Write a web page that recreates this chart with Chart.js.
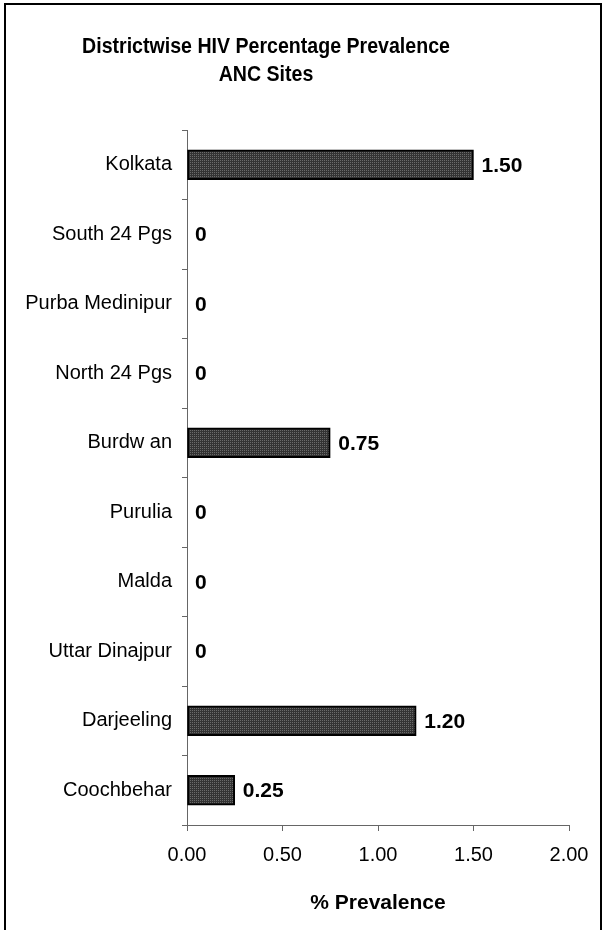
<!DOCTYPE html>
<html>
<head>
<meta charset="utf-8">
<script src="https://cdn.jsdelivr.net/npm/chart.js@4/dist/chart.umd.min.js"></script>
<style>
  html, body { margin: 0; padding: 0; background: #fff; }
  #wrap { position: relative; width: 602px; height: 930px; }
  #frame {
    position: absolute; left: 4px; top: 3px; width: 598px; height: 940px;
    border: 2px solid #000; box-sizing: border-box; pointer-events: none;
  }
  canvas { position: absolute; left: 0; top: 0; }
</style>
</head>
<body>
<div id="wrap">
  <canvas id="chart" width="602" height="930"></canvas>
  <div id="frame"></div>
</div>
<script>
// Données du graphique
const titleLines = ['Districtwise HIV Percentage Prevalence', 'ANC Sites'];
const districts = ['Kolkata', 'South 24 Pgs', 'Purba Medinipur', 'North 24 Pgs', 'Burdw an',
                   'Purulia', 'Malda', 'Uttar Dinajpur', 'Darjeeling', 'Coochbehar'];
const prevalence = [1.50, 0, 0, 0, 0.75, 0, 0, 0, 1.20, 0.25];
const axisTitle = '% Prevalence';

const FONT = '"Liberation Sans", Arial, sans-serif';

// Motif pointillé pour les barres
function makePattern() {
    const c = document.createElement('canvas');
    c.width = 2; c.height = 2;
    const g = c.getContext('2d');
    g.fillStyle = '#333333';
    g.fillRect(0, 0, 2, 2);
    g.fillStyle = '#6a6a6a';
    g.fillRect(0, 0, 1, 1);
    return g.createPattern(c, 'repeat');
}

// Titre dessiné à la main (centré comme dans l'original, police un peu condensée)
const titlePlugin = {
    id: 'customTitle',
    afterDraw(chart) {
        const ctx = chart.ctx;
        ctx.save();
        ctx.fillStyle = '#000';
        ctx.font = 'bold 22px ' + FONT;
        ctx.textAlign = 'center';
        ctx.textBaseline = 'middle';
        ctx.translate(266, 0);
        ctx.scale(0.89, 1);
        titleLines.forEach((line, i) => ctx.fillText(line, 0, 47 + i * 28));
        ctx.restore();
    }
};

// Étiquettes de valeurs à droite des barres
const valueLabels = {
    id: 'valueLabels',
    afterDatasetsDraw(chart) {
        const ctx = chart.ctx;
        const meta = chart.getDatasetMeta(0);
        ctx.save();
        ctx.fillStyle = '#000';
        ctx.font = 'bold 21px ' + FONT;
        ctx.textAlign = 'left';
        ctx.textBaseline = 'middle';
        meta.data.forEach((bar, i) => {
            const v = prevalence[i];
            const txt = v === 0 ? '0' : v.toFixed(2);
            ctx.fillText(txt, bar.x + 8, bar.y + 1);
        });
        ctx.restore();
    }
};

new Chart(document.getElementById('chart'), {
    type: 'bar',
    data: {
        labels: districts,
        datasets: [{
            data: prevalence,
            backgroundColor: makePattern(),
            borderColor: '#000',
            borderWidth: 2,
            borderSkipped: false,
            barThickness: 30
        }]
    },
    options: {
        indexAxis: 'y',
        responsive: false,
        animation: false,
        layout: { padding: { left: 0, top: 130, right: 33, bottom: 0 } },
        plugins: {
            legend: { display: false },
            tooltip: { enabled: false },
            title: { display: false }
        },
        scales: {
            x: {
                min: 0,
                max: 2,
                afterFit(scale) { scale.height = 105; },
                ticks: {
                    stepSize: 0.5,
                    color: '#000',
                    padding: 12,
                    font: { family: FONT, size: 20 },
                    callback: v => Number(v).toFixed(2)
                },
                grid: { drawOnChartArea: false, tickLength: 6, color: '#666' },
                border: { color: '#666', width: 1 },
                title: {
                    display: true,
                    text: axisTitle,
                    color: '#000',
                    font: { family: FONT, size: 21, weight: 'bold' },
                    padding: { top: 14, bottom: 14 }
                }
            },
            y: {
                afterFit(scale) { scale.width = 187; },
                ticks: {
                    color: '#000',
                    padding: 10,
                    font: { family: FONT, size: 20 }
                },
                grid: { drawOnChartArea: false, offset: true, tickLength: 5, color: '#666' },
                border: { color: '#666', width: 1 }
            }
        }
    },
    plugins: [titlePlugin, valueLabels]
});
</script>
</body>
</html>
